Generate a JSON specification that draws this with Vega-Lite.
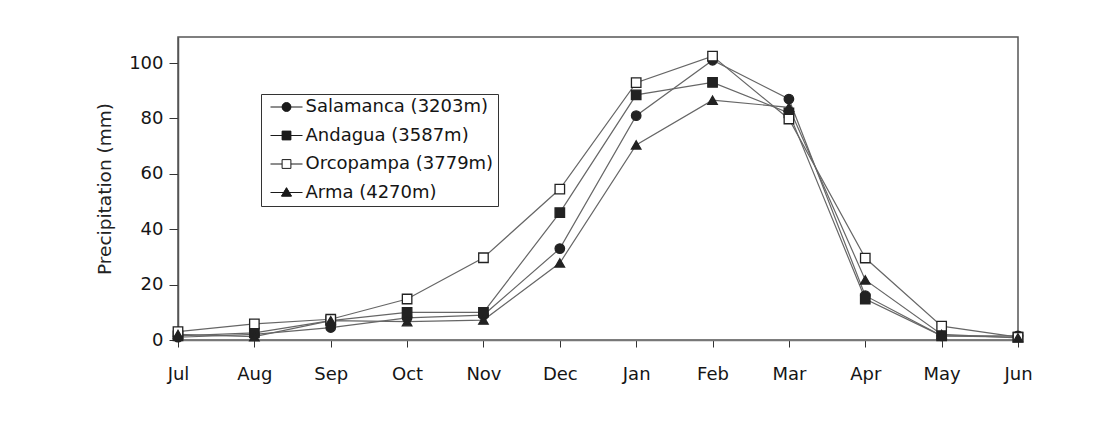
{
  "$schema": "https://vega.github.io/schema/vega-lite/v6.json",
  "autosize": "none",
  "width": 840,
  "height": 303,
  "padding": {"left": 178, "top": 37, "right": 83, "bottom": 81},
  "background": "white",
  "config": {
    "view": {"stroke": "#555", "strokeWidth": 1.5},
    "font": "DejaVu Sans"
  },
  "data": {
    "values": [
      {"month": "Jul", "station": "Salamanca (3203m)", "precip": 1},
      {"month": "Aug", "station": "Salamanca (3203m)", "precip": 2},
      {"month": "Sep", "station": "Salamanca (3203m)", "precip": 4.5},
      {"month": "Oct", "station": "Salamanca (3203m)", "precip": 8},
      {"month": "Nov", "station": "Salamanca (3203m)", "precip": 9},
      {"month": "Dec", "station": "Salamanca (3203m)", "precip": 33},
      {"month": "Jan", "station": "Salamanca (3203m)", "precip": 81},
      {"month": "Feb", "station": "Salamanca (3203m)", "precip": 101},
      {"month": "Mar", "station": "Salamanca (3203m)", "precip": 87},
      {"month": "Apr", "station": "Salamanca (3203m)", "precip": 16},
      {"month": "May", "station": "Salamanca (3203m)", "precip": 1.5},
      {"month": "Jun", "station": "Salamanca (3203m)", "precip": 1.5},
      {"month": "Jul", "station": "Andagua (3587m)", "precip": 1.5},
      {"month": "Aug", "station": "Andagua (3587m)", "precip": 2.6},
      {"month": "Sep", "station": "Andagua (3587m)", "precip": 7},
      {"month": "Oct", "station": "Andagua (3587m)", "precip": 10},
      {"month": "Nov", "station": "Andagua (3587m)", "precip": 10},
      {"month": "Dec", "station": "Andagua (3587m)", "precip": 46},
      {"month": "Jan", "station": "Andagua (3587m)", "precip": 88.5},
      {"month": "Feb", "station": "Andagua (3587m)", "precip": 93},
      {"month": "Mar", "station": "Andagua (3587m)", "precip": 82},
      {"month": "Apr", "station": "Andagua (3587m)", "precip": 14.8},
      {"month": "May", "station": "Andagua (3587m)", "precip": 1.5},
      {"month": "Jun", "station": "Andagua (3587m)", "precip": 1},
      {"month": "Jul", "station": "Orcopampa (3779m)", "precip": 3},
      {"month": "Aug", "station": "Orcopampa (3779m)", "precip": 5.8},
      {"month": "Sep", "station": "Orcopampa (3779m)", "precip": 7.5},
      {"month": "Oct", "station": "Orcopampa (3779m)", "precip": 14.8},
      {"month": "Nov", "station": "Orcopampa (3779m)", "precip": 29.7},
      {"month": "Dec", "station": "Orcopampa (3779m)", "precip": 54.5},
      {"month": "Jan", "station": "Orcopampa (3779m)", "precip": 92.9},
      {"month": "Feb", "station": "Orcopampa (3779m)", "precip": 102.5},
      {"month": "Mar", "station": "Orcopampa (3779m)", "precip": 79.8},
      {"month": "Apr", "station": "Orcopampa (3779m)", "precip": 29.6},
      {"month": "May", "station": "Orcopampa (3779m)", "precip": 5},
      {"month": "Jun", "station": "Orcopampa (3779m)", "precip": 1},
      {"month": "Jul", "station": "Arma (4270m)", "precip": 2},
      {"month": "Aug", "station": "Arma (4270m)", "precip": 1.2},
      {"month": "Sep", "station": "Arma (4270m)", "precip": 7},
      {"month": "Oct", "station": "Arma (4270m)", "precip": 6.6},
      {"month": "Nov", "station": "Arma (4270m)", "precip": 7.2},
      {"month": "Dec", "station": "Arma (4270m)", "precip": 27.8},
      {"month": "Jan", "station": "Arma (4270m)", "precip": 70.4},
      {"month": "Feb", "station": "Arma (4270m)", "precip": 86.6},
      {"month": "Mar", "station": "Arma (4270m)", "precip": 84},
      {"month": "Apr", "station": "Arma (4270m)", "precip": 21.7},
      {"month": "May", "station": "Arma (4270m)", "precip": 2},
      {"month": "Jun", "station": "Arma (4270m)", "precip": 0.8}
    ]
  },
  "encoding": {
    "x": {
      "field": "month",
      "type": "ordinal",
      "sort": ["Jul", "Aug", "Sep", "Oct", "Nov", "Dec", "Jan", "Feb", "Mar", "Apr", "May", "Jun"],
      "scale": {"type": "point", "padding": 0},
      "axis": {
        "title": null,
        "labelAngle": 0,
        "labelFont": "DejaVu Sans",
        "labelFontSize": 18,
        "labelColor": "#151515",
        "labelPadding": 18,
        "tickSize": 7,
        "tickColor": "#333",
        "domainColor": "#777",
        "domainWidth": 1.5,
        "grid": false
      }
    },
    "y": {
      "field": "precip",
      "type": "quantitative",
      "scale": {"domain": [0, 109.4], "nice": false},
      "axis": {
        "title": "Precipitation (mm)",
        "titleFont": "DejaVu Sans",
        "titleFontSize": 18.5,
        "titleFontWeight": "normal",
        "titleColor": "#222",
        "titlePadding": 14,
        "values": [0, 20, 40, 60, 80, 100],
        "labelFont": "DejaVu Sans",
        "labelFontSize": 18,
        "labelColor": "#151515",
        "labelPadding": 6,
        "tickSize": 9,
        "tickColor": "#333",
        "domainColor": "#555",
        "domainWidth": 1.5,
        "grid": false
      }
    }
  },
  "layer": [
    {
      "mark": {"type": "line", "color": "#666", "strokeWidth": 1.2},
      "encoding": {"detail": {"field": "station"}}
    },
    {
      "mark": {"type": "point", "filled": true, "stroke": "#222", "strokeWidth": 1.3, "size": 90, "opacity": 1},
      "encoding": {
        "shape": {
          "field": "station",
          "type": "nominal",
          "scale": {
            "domain": ["Salamanca (3203m)", "Andagua (3587m)", "Orcopampa (3779m)", "Arma (4270m)"],
            "range": ["circle", "square", "square", "triangle-up"]
          },
          "legend": null
        },
        "fill": {
          "field": "station",
          "type": "nominal",
          "scale": {
            "domain": ["Salamanca (3203m)", "Andagua (3587m)", "Orcopampa (3779m)", "Arma (4270m)"],
            "range": ["#222", "#222", "white", "#222"]
          },
          "legend": null
        }
      }
    },
    {
      "mark": {"type": "point", "filled": false, "stroke": "#222", "strokeWidth": 1, "size": 64, "opacity": 0},
      "encoding": {
        "shape": {
          "field": "station",
          "type": "nominal",
          "scale": {
            "domain": ["Salamanca (3203m)", "Andagua (3587m)", "Orcopampa (3779m)", "Arma (4270m)"],
            "range": [
              "M-4,0H4M-1.1,0A1.1,1.1,0,1,0,1.1,0A1.1,1.1,0,1,0,-1.1,0ZM-1.093,-0.125H1.093M-1.093,0.125H1.093M-1.071,-0.25H1.071M-1.071,0.25H1.071M-1.034,-0.375H1.034M-1.034,0.375H1.034M-0.98,-0.5H0.98M-0.98,0.5H0.98M-0.905,-0.625H0.905M-0.905,0.625H0.905M-0.805,-0.75H0.805M-0.805,0.75H0.805M-0.667,-0.875H0.667M-0.667,0.875H0.667M-0.458,-1H0.458M-0.458,1H0.458",
              "M-4,0H4M-1.1,-1.1H1.1V1.1H-1.1ZM-1.1,-1H1.1M-1.1,-0.875H1.1M-1.1,-0.75H1.1M-1.1,-0.625H1.1M-1.1,-0.5H1.1M-1.1,-0.375H1.1M-1.1,-0.25H1.1M-1.1,-0.125H1.1M-1.1,0.125H1.1M-1.1,0.25H1.1M-1.1,0.375H1.1M-1.1,0.5H1.1M-1.1,0.625H1.1M-1.1,0.75H1.1M-1.1,0.875H1.1M-1.1,1H1.1",
              "M-4,0H-1.1M1.1,0H4M-1.1,-1.1H1.1V1.1H-1.1Z",
              "M-4,0H4M0,-1.2L1.25,0.9H-1.25ZM-0.045,-1.125H0.045M-0.119,-1H0.119M-0.194,-0.875H0.194M-0.268,-0.75H0.268M-0.342,-0.625H0.342M-0.417,-0.5H0.417M-0.491,-0.375H0.491M-0.566,-0.25H0.566M-0.64,-0.125H0.64M-0.789,0.125H0.789M-0.863,0.25H0.863M-0.938,0.375H0.938M-1.012,0.5H1.012M-1.086,0.625H1.086M-1.161,0.75H1.161M-1.235,0.875H1.235"
            ]
          },
          "legend": {
            "title": null,
            "orient": "none",
            "legendX": 83,
            "legendY": 57,
            "fillColor": "white",
            "strokeColor": "#333",
            "padding": 4,
            "labelFont": "DejaVu Sans",
            "labelFontSize": 18,
            "labelColor": "#151515",
            "labelLimit": 400,
            "rowPadding": 10.5,
            "symbolSize": 64,
            "symbolStrokeWidth": 1,
            "symbolStrokeColor": "#1a1a1a",
            "symbolFillColor": "white",
            "symbolOpacity": 1,
            "symbolOffset": 12.5,
            "labelOffset": 10
          }
        }
      }
    }
  ],
  "resolve": {
    "scale": {"shape": "independent"},
    "legend": {"shape": "independent"}
  }
}
